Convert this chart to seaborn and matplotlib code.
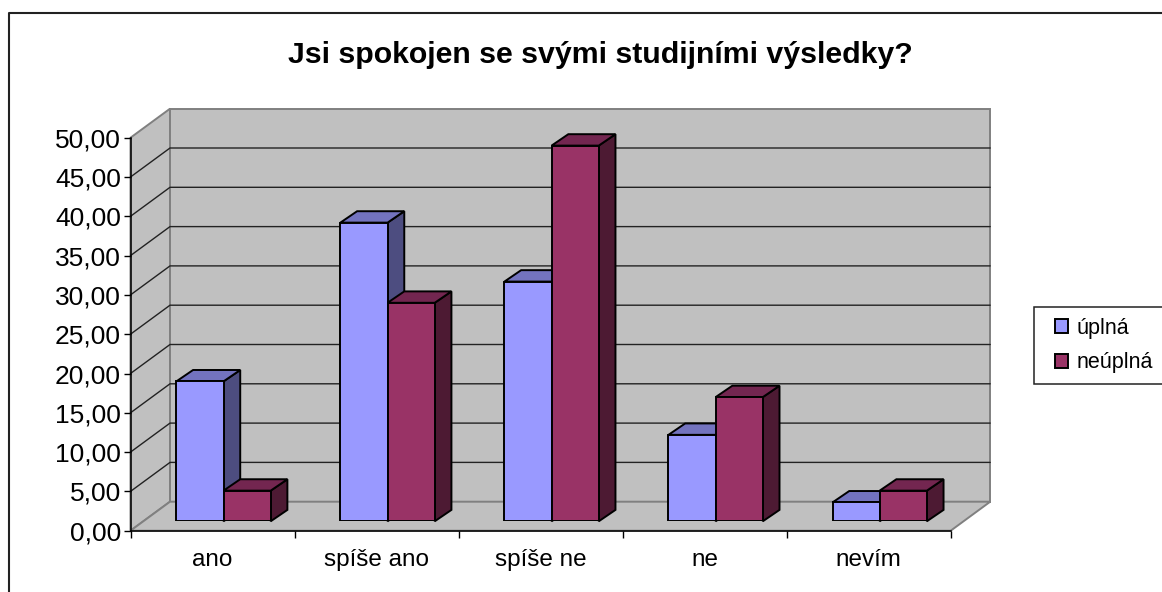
import pandas as pd
import numpy as np
import matplotlib
matplotlib.use('Agg')
import matplotlib.pyplot as plt
import seaborn as sns
from matplotlib.patches import Polygon, Rectangle
from matplotlib.lines import Line2D

# data
kategorie = ['ano', 'spíše ano', 'spíše ne', 'ne', 'nevím']
skupiny = ['úplná', 'neúplná']
uplna = [17.8, 38.0, 30.5, 11.0, 2.4]
neuplna = [3.9, 27.8, 47.8, 15.8, 3.9]
y_ticks = [0, 5, 10, 15, 20, 25, 30, 35, 40, 45, 50]
title = 'Jsi spokojen se svými studijními výsledky?'

barvy = ['#9999FF', '#993366']
barvy_top = ['#7373BF', '#732650']
barvy_side = ['#4D4D80', '#4D1A33']

W, H = 1162, 592

sns.set_theme(style='white')
plt.rcParams['font.family'] = ['Liberation Sans', 'DejaVu Sans']


def px_box(x0, y0, x1, y1):
    # pixel box (y from top) -> figure fractions
    return [x0 / W, 1 - y1 / H, (x1 - x0) / W, (y1 - y0) / H]


df = pd.DataFrame({
    'kategorie': kategorie * 2,
    'skupina': [skupiny[0]] * 5 + [skupiny[1]] * 5,
    'hodnota': uplna + neuplna,
})

fig = plt.figure(figsize=(W / 100, H / 100), dpi=100, facecolor='white')

# chart frame, only left and top are in the picture
fig.add_artist(Line2D([8.5 / W, 8.5 / W, 1], [0, 1 - 13 / H, 1 - 13 / H], color='#222222', lw=1.5))

# front plane of the box: walls, ticks, labels
ax = fig.add_axes(px_box(130.5, 137.7, 950.7, 530.7))
ax.patch.set_visible(False)
ax.set_xlim(-0.5, 4.5)
ax.set_ylim(0, 50)
hloubka_x = 39.5 / 164
hloubka_y = 29 / 7.86
x0, x1 = -0.5, 4.5
sede = dict(facecolor='#C0C0C0', edgecolor='#808080', lw=1.4, clip_on=False, zorder=0)
ax.add_patch(Polygon([(x0, 0), (x0, 50), (x0 + hloubka_x, 50 + hloubka_y), (x0 + hloubka_x, hloubka_y)], **sede))
ax.add_patch(Polygon([(x0 + hloubka_x, hloubka_y), (x0 + hloubka_x, 50 + hloubka_y),
                      (x1 + hloubka_x, 50 + hloubka_y), (x1 + hloubka_x, hloubka_y)], **sede))
ax.add_patch(Polygon([(x0, 0), (x1, 0), (x1 + hloubka_x, hloubka_y), (x0 + hloubka_x, hloubka_y)], **sede))
for v in y_ticks[1:-1]:
    ax.plot([x0, x0 + hloubka_x, x1 + hloubka_x], [v, v + hloubka_y, v + hloubka_y],
            color='#222222', lw=1.0, clip_on=False, zorder=1)

for s in ['top', 'right']:
    ax.spines[s].set_visible(False)
for s in ['left', 'bottom']:
    ax.spines[s].set_color('black')
    ax.spines[s].set_linewidth(1.1)
    ax.spines[s].set_zorder(2)
ax.set_yticks(y_ticks)
ax.set_yticklabels([f'{v:.2f}'.replace('.', ',') for v in y_ticks], fontsize=19, color='black')
ax.set_xticks(np.arange(-0.5, 5))
ax.set_xticklabels([])
ax.set_xticks(np.arange(5), kategorie, minor=True, fontsize=17.5, color='black')
ax.tick_params(axis='both', which='major', length=5, width=1, color='black', bottom=True, left=True)
ax.tick_params(axis='y', pad=2)
ax.tick_params(axis='x', which='minor', length=0, pad=13)

# bars stand a bit deeper in the box than the front plane
ax_bars = fig.add_axes(px_box(141.5, 128.3, 961.7, 521.3))
ax_bars.patch.set_visible(False)
sns.barplot(data=df, x='kategorie', y='hodnota', hue='skupina', hue_order=skupiny,
            palette=barvy, saturation=1, width=0.575, gap=0, legend=False,
            edgecolor='black', linewidth=1.4, ax=ax_bars)
ax_bars.set_xlim(-0.5, 4.5)
ax_bars.set_ylim(0, 50)

# 3D faces are taken from each bar that seaborn drew
bar_dx = 16.7 / 164
bar_dy = 11.4 / 7.86
face = dict(edgecolor='black', lw=1.4, clip_on=False, joinstyle='miter')
for i, p in enumerate(ax_bars.patches):
    s = i // 5
    z = 3 + s
    bx, bw, bh = p.get_x(), p.get_width(), p.get_height()
    p.set_zorder(z + 0.2)
    ax_bars.add_patch(Polygon([(bx + bw, 0), (bx + bw + bar_dx, bar_dy),
                               (bx + bw + bar_dx, bh + bar_dy), (bx + bw, bh)],
                              facecolor=barvy_side[s], zorder=z, **face))
    ax_bars.add_patch(Polygon([(bx, bh), (bx + bw, bh), (bx + bw + bar_dx, bh + bar_dy), (bx + bar_dx, bh + bar_dy)],
                              facecolor=barvy_top[s], zorder=z + 0.1, **face))
ax_bars.set_axis_off()

fig.text(600 / W, 1 - 55 / H, title, ha='center', va='center', fontsize=21.8, fontweight='bold', color='black')

# legend box runs off the right edge
fig.add_artist(Rectangle((1034 / W, 1 - 383.7 / H), 140 / W, 77 / H, transform=fig.transFigure,
                         facecolor='white', edgecolor='#222222', lw=1.1))
handles = [Rectangle((0, 0), 1, 1, facecolor=c, edgecolor='black', lw=1.4) for c in barvy]
fig.legend(handles, skupiny, loc='center left', bbox_to_anchor=(1055 / W, 1 - 345.5 / H), frameon=False,
           fontsize=15.5, handlelength=0.6, handleheight=0.6, handletextpad=0.42, labelspacing=0.65,
           borderpad=0, borderaxespad=0, labelcolor='black')

fig.savefig('out.png', dpi=100)
